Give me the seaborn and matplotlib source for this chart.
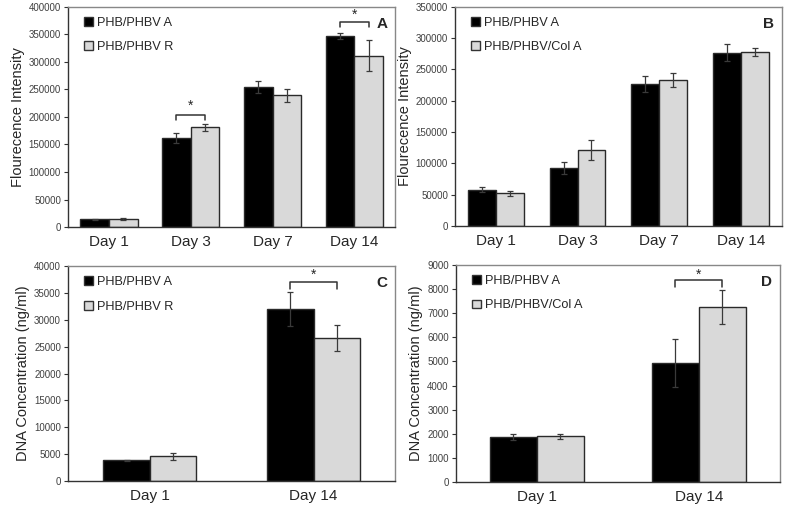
import matplotlib.pyplot as plt
import seaborn as sns
import numpy as np
import pandas as pd
from matplotlib.patches import Patch

# panel A / B: fluorescence, four time points
days4 = ['Day 1', 'Day 3', 'Day 7', 'Day 14']
a_phb = [14000, 161000, 255000, 347000]
a_phb_err = [1000, 9000, 11000, 6000]
a_r = [15000, 181000, 239000, 311000]
a_r_err = [1500, 6000, 12000, 28000]

b_phb = [58000, 93000, 227000, 277000]
b_phb_err = [4000, 10000, 13000, 13000]
b_col = [52000, 121000, 233000, 278000]
b_col_err = [4500, 16000, 11500, 6000]

# panel C / D: DNA concentration, two time points
days2 = ['Day 1', 'Day 14']
c_phb = [3850, 32000]
c_phb_err = [150, 3100]
c_r = [4600, 26600]
c_r_err = [600, 2400]

d_phb = [1870, 4920]
d_phb_err = [140, 1000]
d_col = [1900, 7250]
d_col_err = [110, 700]

FONT = ['Liberation Sans', 'DejaVu Sans']
sns.set_style('white')
plt.rcParams['font.family'] = FONT

fig = plt.figure(figsize=(7.87, 5.12), dpi=100)


def panel(rect, days, s1, e1, s2, e2, names, ylabel, ymax, ystep, width, letter, brackets):
    ax = fig.add_axes(rect)
    df = pd.DataFrame({
        'day': days * 2,
        'val': list(s1) + list(s2),
        'grp': [names[0]] * len(days) + [names[1]] * len(days),
    })
    sns.barplot(data=df, x='day', y='val', hue='grp', order=days, hue_order=names,
                palette=['black', '#d9d9d9'], width=width, gap=0, errorbar=None,
                edgecolor='#2a2a2a', linewidth=1.0, ax=ax, legend=False)
    errs = list(e1) + list(e2)
    vals = list(s1) + list(s2)
    xs = [p.get_x() + p.get_width() / 2 for p in ax.patches[:len(vals)]]
    ax.errorbar(xs, vals, yerr=errs, fmt='none', ecolor='#3a3a3a', elinewidth=0.9,
                capsize=2.2, capthick=0.9)
    n = len(days)
    for i, yb, yt, ys in brackets:
        x0, x1 = xs[i], xs[i + n]
        ax.plot([x0, x0, x1, x1], [yt, yb, yb, yt], color='#333333', lw=1.1)
        ax.text((x0 + x1) / 2, ys, '*', ha='center', va='center', fontsize=10)
    ax.set_xlim(-0.5, n - 0.5)
    ax.set_ylim(0, ymax)
    ax.set_yticks(np.arange(0, ymax + 1, ystep))
    ax.tick_params(axis='y', labelsize=7, length=3, direction='out', left=True,
                   colors='#333333', labelcolor='#404040', width=0.8, pad=2)
    ax.tick_params(axis='x', labelsize=11, length=0, pad=6)
    ax.set_xlabel('')
    ax.set_ylabel(ylabel, fontsize=10.5, labelpad=3)
    for sp in ax.spines.values():
        sp.set_color('#888888')
        sp.set_linewidth(1.0)
    ax.spines['bottom'].set_color('#333333')
    ax.spines['left'].set_color('#333333')
    handles = [Patch(facecolor='black', edgecolor='#333333'),
               Patch(facecolor='#d9d9d9', edgecolor='#333333')]
    ax.legend(handles, names, loc='upper left', frameon=False, fontsize=9.2,
              handlelength=0.7, handleheight=0.7, handletextpad=0.3,
              labelspacing=0.95, bbox_to_anchor=(0.015, 1.005))
    ax.text(0.975, 0.955, letter, transform=ax.transAxes, ha='right', va='top',
            fontsize=11, fontweight='bold')
    return ax


panel([0.0864, 0.5566, 0.416, 0.430], days4, a_phb, a_phb_err, a_r, a_r_err,
      ['PHB/PHBV A', 'PHB/PHBV R'], 'Flourecence Intensity', 400000, 50000, 0.7, 'A',
      [(1, 203000, 195000, 221000), (3, 372500, 363500, 386000)])
panel([0.578, 0.5586, 0.4155, 0.428], days4, b_phb, b_phb_err, b_col, b_col_err,
      ['PHB/PHBV A', 'PHB/PHBV/Col A'], 'Flourecence Intensity', 350000, 50000, 0.68, 'B',
      [])
panel([0.0864, 0.0605, 0.416, 0.420], days2, c_phb, c_phb_err, c_r, c_r_err,
      ['PHB/PHBV A', 'PHB/PHBV R'], 'DNA Concentration (ng/ml)', 40000, 5000, 0.57, 'C',
      [(1, 37100, 35700, 38300)])
panel([0.579, 0.0586, 0.412, 0.424], days2, d_phb, d_phb_err, d_col, d_col_err,
      ['PHB/PHBV A', 'PHB/PHBV/Col A'], 'DNA Concentration (ng/ml)', 9000, 1000, 0.58, 'D',
      [(1, 8360, 8080, 8570)])

fig.savefig('out.png', dpi=100)
